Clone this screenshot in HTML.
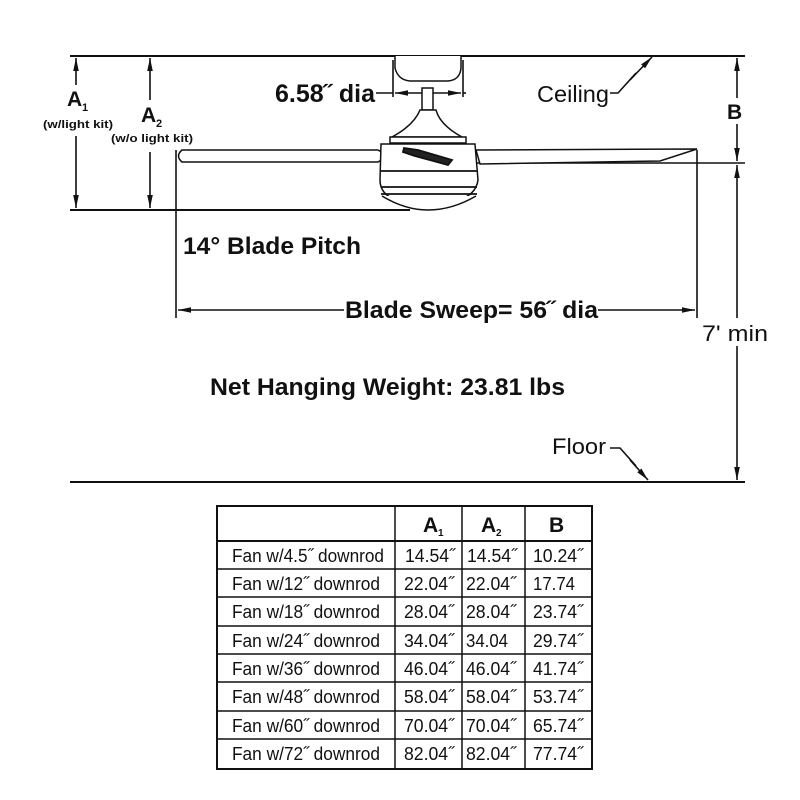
<!DOCTYPE html>
<html><head><meta charset="utf-8"><style>
body{margin:0;background:#fff}
svg{display:block}
text{font-family:"Liberation Sans",Arial,sans-serif;fill:#111}
.b{font-weight:bold}
</style></head><body>
<svg width="800" height="800" viewBox="0 0 800 800" xmlns="http://www.w3.org/2000/svg">
<defs>
<marker id="ar" viewBox="0 0 10 10" refX="10" refY="5" markerWidth="13" markerHeight="7" orient="auto-start-reverse" markerUnits="userSpaceOnUse" preserveAspectRatio="none"><path d="M0,1 L10,5 L0,9 Z" fill="#111"/></marker>
</defs>
<g stroke="#111" stroke-width="2" fill="none">
<line x1="70" y1="56" x2="745" y2="56"/>
<line x1="70" y1="210" x2="410" y2="210"/>
<line x1="70" y1="482" x2="745" y2="482"/>
<line x1="470" y1="163" x2="745" y2="163" stroke-width="1.5"/>
</g>
<g stroke="#111" stroke-width="1.6" fill="none">
<line x1="76" y1="85" x2="76" y2="58" marker-end="url(#ar)"/>
<line x1="76" y1="136" x2="76" y2="208" marker-end="url(#ar)"/>
<line x1="150" y1="100" x2="150" y2="58" marker-end="url(#ar)"/>
<line x1="150" y1="152" x2="150" y2="208" marker-end="url(#ar)"/>
<line x1="737" y1="98" x2="737" y2="58" marker-end="url(#ar)"/>
<line x1="737" y1="124" x2="737" y2="161" marker-end="url(#ar)"/>
<line x1="737" y1="318" x2="737" y2="165" marker-end="url(#ar)"/>
<line x1="737" y1="346" x2="737" y2="480" marker-end="url(#ar)"/>
<line x1="176" y1="150" x2="176" y2="318"/>
<line x1="697" y1="150" x2="697" y2="318"/>
<line x1="344" y1="310" x2="178" y2="310" marker-end="url(#ar)"/>
<line x1="598" y1="310" x2="695" y2="310" marker-end="url(#ar)"/>
<line x1="393" y1="60" x2="393" y2="97"/>
<line x1="463" y1="60" x2="463" y2="97"/>
<line x1="376" y1="93" x2="393" y2="93"/>
<line x1="422" y1="93" x2="395" y2="93" marker-end="url(#ar)"/>
<line x1="433" y1="93" x2="461" y2="93" marker-end="url(#ar)"/>
<line x1="463" y1="93" x2="466" y2="93"/>
<polyline points="610,93 618,93 636,73"/>
<line x1="630" y1="80" x2="652" y2="57" marker-end="url(#ar)"/>
<polyline points="610,448 620,448 636,466"/>
<line x1="630" y1="460" x2="648" y2="480" marker-end="url(#ar)"/>
</g>
<g stroke="#111" stroke-width="1.5" fill="#fff">
<path d="M395,56 L395,68 Q398,80 410,81 L448,81 Q460,80 461,68 L461,56"/>
<rect x="422" y="88" width="11" height="22"/>
<path d="M420,110 L436,110 Q440,125 462,137 L392,137 Q414,125 420,110 Z"/>
<rect x="390" y="137" width="76" height="6"/>
<path d="M182,150 L378,150 L388,156 L378,162 L182,162 Q175,156 182,150 Z"/>
<path d="M476,150 L697,149 L660,161 L480,164 Z"/>
<path d="M381,144 L475,144 L478,180 Q476,196 455,201 L400,201 Q380,196 380,180 Z"/>
<path d="M382,196 Q405,210 428,210 Q452,210 476,196"/>
</g>
<g stroke="#111" stroke-width="1.8">
<line x1="381" y1="171" x2="477" y2="171"/>
<line x1="381" y1="187" x2="477" y2="187"/>
<line x1="381" y1="194" x2="477" y2="194"/>
<path d="M404,148 L418,150 L452,160 L448,165 L415,156 L403,152 Z" fill="#222"/>
</g>
<g>
<text x="67" y="106" class="b" font-size="21">A</text><text x="82" y="111" class="b" font-size="11">1</text>
<text x="43" y="128" class="b" font-size="11" textLength="70" lengthAdjust="spacingAndGlyphs">(w/light kit)</text>
<text x="141" y="122" class="b" font-size="21">A</text><text x="156" y="127" class="b" font-size="11">2</text>
<text x="111" y="142" class="b" font-size="11" textLength="82" lengthAdjust="spacingAndGlyphs">(w/o light kit)</text>
<text x="275" y="102" class="b" font-size="25" textLength="100" lengthAdjust="spacingAndGlyphs">6.58˝ dia</text>
<text x="537" y="102" font-size="23" textLength="72" lengthAdjust="spacingAndGlyphs">Ceiling</text>
<text x="727" y="119" class="b" font-size="21">B</text>
<text x="183" y="254" class="b" font-size="24" textLength="178" lengthAdjust="spacingAndGlyphs">14° Blade Pitch</text>
<text x="345" y="318" class="b" font-size="24" textLength="253" lengthAdjust="spacingAndGlyphs">Blade Sweep= 56˝ dia</text>
<text x="702" y="341" font-size="22" textLength="66" lengthAdjust="spacingAndGlyphs">7' min</text>
<text x="210" y="395" class="b" font-size="24" textLength="355" lengthAdjust="spacingAndGlyphs">Net Hanging Weight: 23.81 lbs</text>
<text x="552" y="454" font-size="22" textLength="54" lengthAdjust="spacingAndGlyphs">Floor</text>
</g>
<g stroke="#111" fill="none">
<rect x="217" y="506" width="375" height="263" stroke-width="2"/>
<g stroke-width="1.5">
<line x1="395" y1="506" x2="395" y2="769"/>
<line x1="462" y1="506" x2="462" y2="769"/>
<line x1="525" y1="506" x2="525" y2="769"/>
<line x1="217" y1="541" x2="592" y2="541" stroke-width="2"/>
<line x1="217" y1="569" x2="592" y2="569"/>
<line x1="217" y1="597" x2="592" y2="597"/>
<line x1="217" y1="626" x2="592" y2="626"/>
<line x1="217" y1="654" x2="592" y2="654"/>
<line x1="217" y1="682" x2="592" y2="682"/>
<line x1="217" y1="711" x2="592" y2="711"/>
<line x1="217" y1="739" x2="592" y2="739"/>
</g>
</g>
<g font-size="18.5">
<text x="423" y="532" class="b" font-size="21">A</text><text x="438" y="536" class="b" font-size="10">1</text>
<text x="481" y="532" class="b" font-size="21">A</text><text x="496" y="536" class="b" font-size="10">2</text>
<text x="549" y="532" class="b" font-size="21">B</text>
<text x="232" y="562" textLength="152" lengthAdjust="spacingAndGlyphs">Fan w/4.5˝ downrod</text><text x="405" y="562" textLength="50" lengthAdjust="spacingAndGlyphs">14.54˝</text><text x="467" y="562" textLength="50" lengthAdjust="spacingAndGlyphs">14.54˝</text><text x="533" y="562" textLength="50" lengthAdjust="spacingAndGlyphs">10.24˝</text>
<text x="232" y="590" textLength="148" lengthAdjust="spacingAndGlyphs">Fan w/12˝ downrod</text><text x="404" y="590" textLength="50" lengthAdjust="spacingAndGlyphs">22.04˝</text><text x="466" y="590" textLength="50" lengthAdjust="spacingAndGlyphs">22.04˝</text><text x="533" y="590" textLength="42" lengthAdjust="spacingAndGlyphs">17.74</text>
<text x="232" y="618" textLength="148" lengthAdjust="spacingAndGlyphs">Fan w/18˝ downrod</text><text x="404" y="618" textLength="50" lengthAdjust="spacingAndGlyphs">28.04˝</text><text x="466" y="618" textLength="50" lengthAdjust="spacingAndGlyphs">28.04˝</text><text x="533" y="618" textLength="50" lengthAdjust="spacingAndGlyphs">23.74˝</text>
<text x="232" y="647" textLength="148" lengthAdjust="spacingAndGlyphs">Fan w/24˝ downrod</text><text x="404" y="647" textLength="50" lengthAdjust="spacingAndGlyphs">34.04˝</text><text x="466" y="647" textLength="42" lengthAdjust="spacingAndGlyphs">34.04</text><text x="533" y="647" textLength="50" lengthAdjust="spacingAndGlyphs">29.74˝</text>
<text x="232" y="675" textLength="148" lengthAdjust="spacingAndGlyphs">Fan w/36˝ downrod</text><text x="404" y="675" textLength="50" lengthAdjust="spacingAndGlyphs">46.04˝</text><text x="466" y="675" textLength="50" lengthAdjust="spacingAndGlyphs">46.04˝</text><text x="533" y="675" textLength="50" lengthAdjust="spacingAndGlyphs">41.74˝</text>
<text x="232" y="703" textLength="148" lengthAdjust="spacingAndGlyphs">Fan w/48˝ downrod</text><text x="404" y="703" textLength="50" lengthAdjust="spacingAndGlyphs">58.04˝</text><text x="466" y="703" textLength="50" lengthAdjust="spacingAndGlyphs">58.04˝</text><text x="533" y="703" textLength="50" lengthAdjust="spacingAndGlyphs">53.74˝</text>
<text x="232" y="732" textLength="148" lengthAdjust="spacingAndGlyphs">Fan w/60˝ downrod</text><text x="404" y="732" textLength="50" lengthAdjust="spacingAndGlyphs">70.04˝</text><text x="466" y="732" textLength="50" lengthAdjust="spacingAndGlyphs">70.04˝</text><text x="533" y="732" textLength="50" lengthAdjust="spacingAndGlyphs">65.74˝</text>
<text x="232" y="760" textLength="148" lengthAdjust="spacingAndGlyphs">Fan w/72˝ downrod</text><text x="404" y="760" textLength="50" lengthAdjust="spacingAndGlyphs">82.04˝</text><text x="466" y="760" textLength="50" lengthAdjust="spacingAndGlyphs">82.04˝</text><text x="533" y="760" textLength="50" lengthAdjust="spacingAndGlyphs">77.74˝</text>
</g>
</svg>
</body></html>
